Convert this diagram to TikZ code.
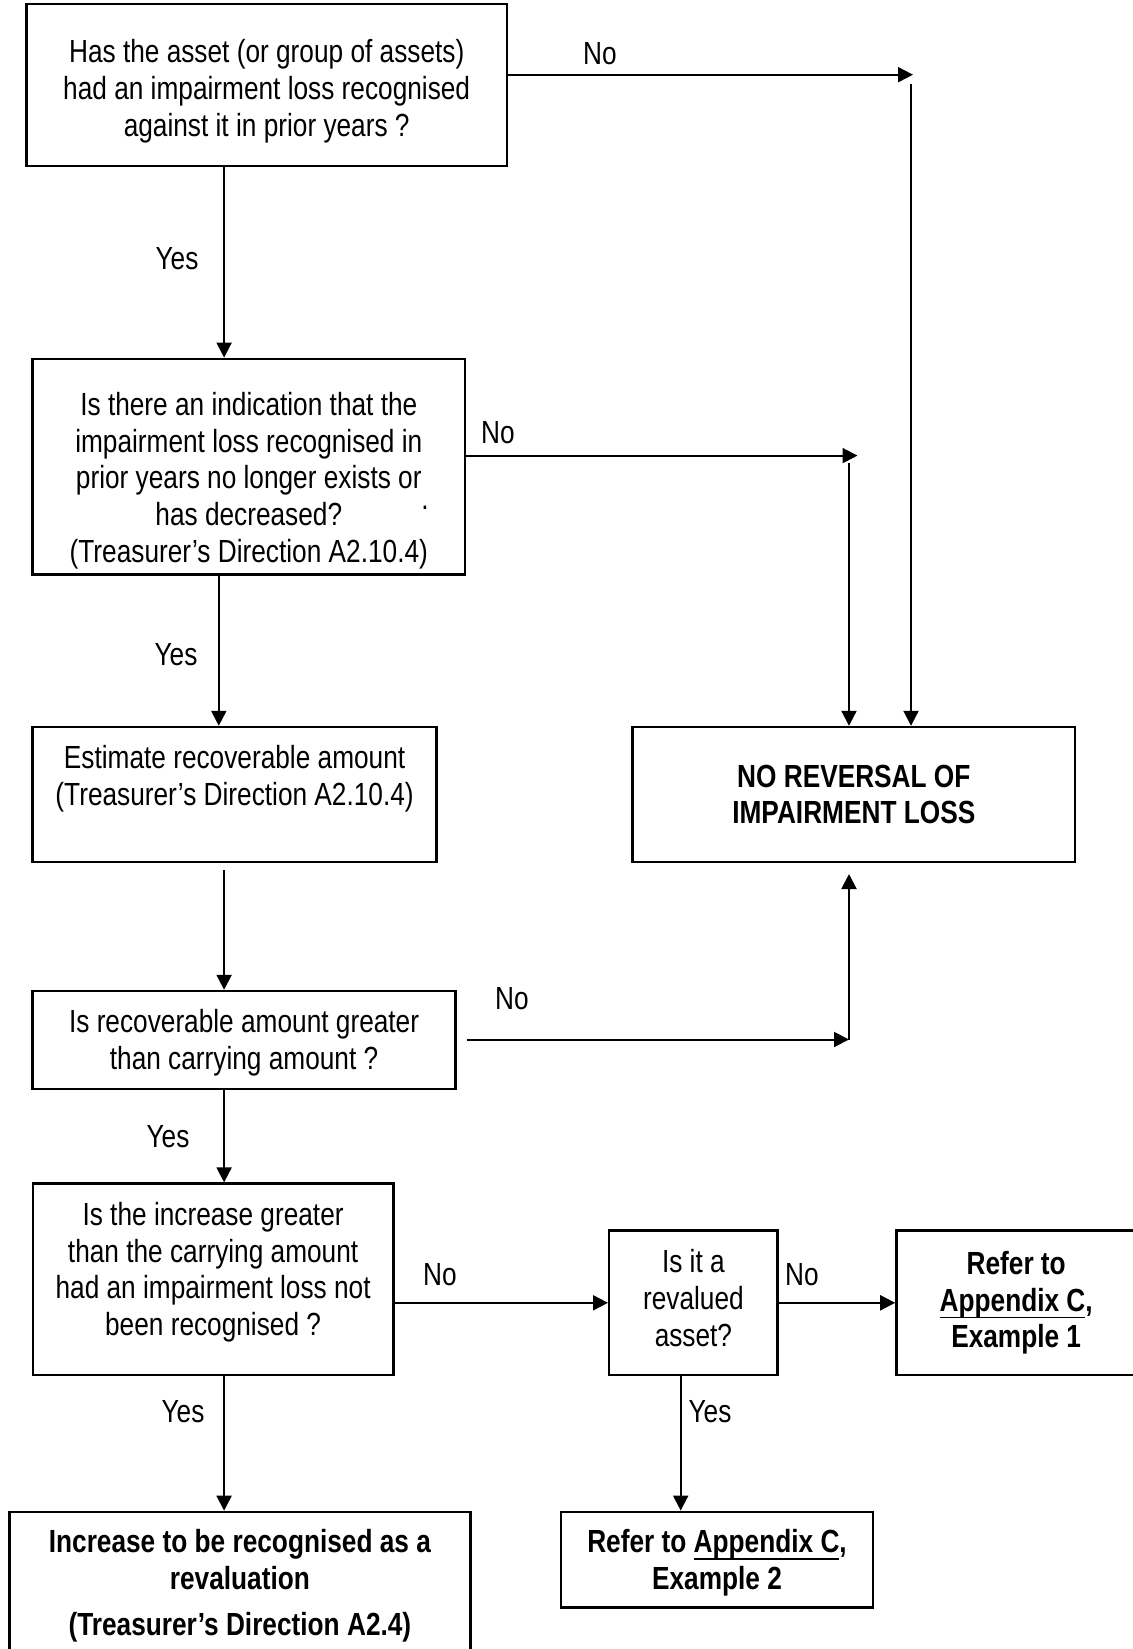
\documentclass[tikz,border=0pt]{standalone}
\usepackage{fontspec}
\setmainfont{Liberation Sans}[FakeStretch=0.82]
\usetikzlibrary{arrows.meta}

\newsavebox\ulbox
\newcommand\ulc[1]{\sbox\ulbox{#1}\rlap{\rule[-3.7pt]{\wd\ulbox}{0.85pt}}\usebox\ulbox}
\newcommand\topgap[1]{\rule{0pt}{#1}}
\newcommand\botgap[1]{\rule[-#1]{0pt}{0pt}}

\begin{document}
\begin{tikzpicture}[x=0.5pt, y=-0.5pt,
  box/.style={draw, line width=1.2pt, align=center, inner sep=0pt,
    font=\fontsize{16}{18.4}\selectfont},
  bbox/.style={box, font=\fontsize{16}{18.4}\selectfont\bfseries},
  lbl/.style={inner sep=0pt, text depth=0pt, font=\fontsize{16}{18.4}\selectfont},
  arr/.style={line width=1pt, -{Triangle[length=7.5pt,width=7.5pt]}}]
\useasboundingbox (0,0) rectangle (1132,1649);

% questions down the left
\node[box, minimum width=240.4pt, minimum height=81pt] (q1) at (266.7,85.2)
  {\topgap{17.7pt}Has the asset (or group of assets)\\had an impairment loss recognised\\against it in prior years ?};
\node[box, minimum width=216.2pt, minimum height=107.8pt] (q2) at (248.8,466.6)
  {\topgap{25.7pt}Is there an indication that the\\impairment loss recognised in\\prior years no longer exists or\\has decreased?\\(Treasurer’s Direction A2.10.4)};
\node[box, minimum width=202pt, minimum height=67.4pt] (est) at (234.6,794.4)
  {\topgap{16.6pt}Estimate recoverable amount\\(Treasurer’s Direction A2.10.4)\\\strut};
\node[box, minimum width=211.5pt, minimum height=49pt] (q3) at (244.1,1040)
  {\topgap{14.7pt}Is recoverable amount greater\\than carrying amount ?};
\node[box, minimum width=180.4pt, minimum height=95.7pt] (q4) at (213.1,1279.3)
  {Is the increase greater\\than the carrying amount\\had an impairment loss not\\been recognised ?\botgap{10.4pt}};
\node[box, minimum width=84.2pt, minimum height=72.2pt] (q5) at (693.4,1302.8)
  {Is it a\\revalued\\asset?\botgap{5pt}};

% outcomes
\node[bbox, minimum width=221.4pt, minimum height=67.4pt] (nr) at (853.8,794.4)
  {NO REVERSAL OF\\IMPAIRMENT LOSS};
\node[bbox, minimum width=119.8pt, minimum height=72.2pt] (ref1) at (1016.2,1302.8)
  {Refer to\\\ulc{Appendix C},\\Example 1};
\node[bbox, minimum width=156.2pt, minimum height=47.9pt] (ref2) at (717,1559.7)
  {\topgap{14.6pt}Refer to \ulc{Appendix C},\\Example 2};
\node[bbox, minimum width=230.4pt, minimum height=71.1pt] (res) at (239.9,1583)
  {\topgap{14.6pt}Increase to be recognised as a\\revaluation\\[4.7pt](Treasurer’s Direction A2.4)};

\node[lbl] (dot) at (425,508) {.};

% columns and turning points
\coordinate (cA) at (224.1,0);
\coordinate (cB) at (218.8,0);
\coordinate (cC) at (680.7,0);
\coordinate (n1) at (913,74.7);
\coordinate (t1) at (911,84);
\coordinate (n2) at (857.5,455.6);
\coordinate (t2) at (849,463);
\coordinate (n3) at (849,1039.5);

% yes
\draw[arr] (q1.south -| cA) -- (q2.north -| cA);
\draw[arr] (q2.south -| cB) -- (est.north -| cB);
\draw[arr] ([yshift=-3.5pt]est.south -| cA) -- (q3.north -| cA);
\draw[arr] (q3.south -| cA) -- (q4.north -| cA);
\draw[arr] (q4.south -| cA) -- (res.north -| cA);
\draw[arr] (q5.south -| cC) -- (ref2.north -| cC);

% no
\draw[arr] (q1.east |- n1) -- (n1);
\draw[arr] (t1) -- (t1 |- nr.north);
\draw[arr] (q2.east |- n2) -- (n2);
\draw[arr] (t2) -- (t2 |- nr.north);
\draw[arr] ([xshift=5pt]q3.east |- n3) -- (n3);
\draw[arr] (n3) -- ([yshift=-5.5pt]n3 |- nr.south);
\draw[arr] (q4.east |- q5.west) -- (q5.west);
\draw[arr] (q5.east) -- (ref1.west);

\node[lbl] (no1) at (600,53) {No};
\node[lbl] (yes1) at (177,258) {Yes};
\node[lbl] (no2) at (498,432) {No};
\node[lbl] (yes2) at (176,654) {Yes};
\node[lbl] (no3) at (512,998) {No};
\node[lbl] (yes3) at (168,1136) {Yes};
\node[lbl] (no4) at (440,1274) {No};
\node[lbl] (no5) at (802,1274) {No};
\node[lbl] (yes4) at (183,1411) {Yes};
\node[lbl] (yes5) at (710,1411) {Yes};
\end{tikzpicture}
\end{document}
